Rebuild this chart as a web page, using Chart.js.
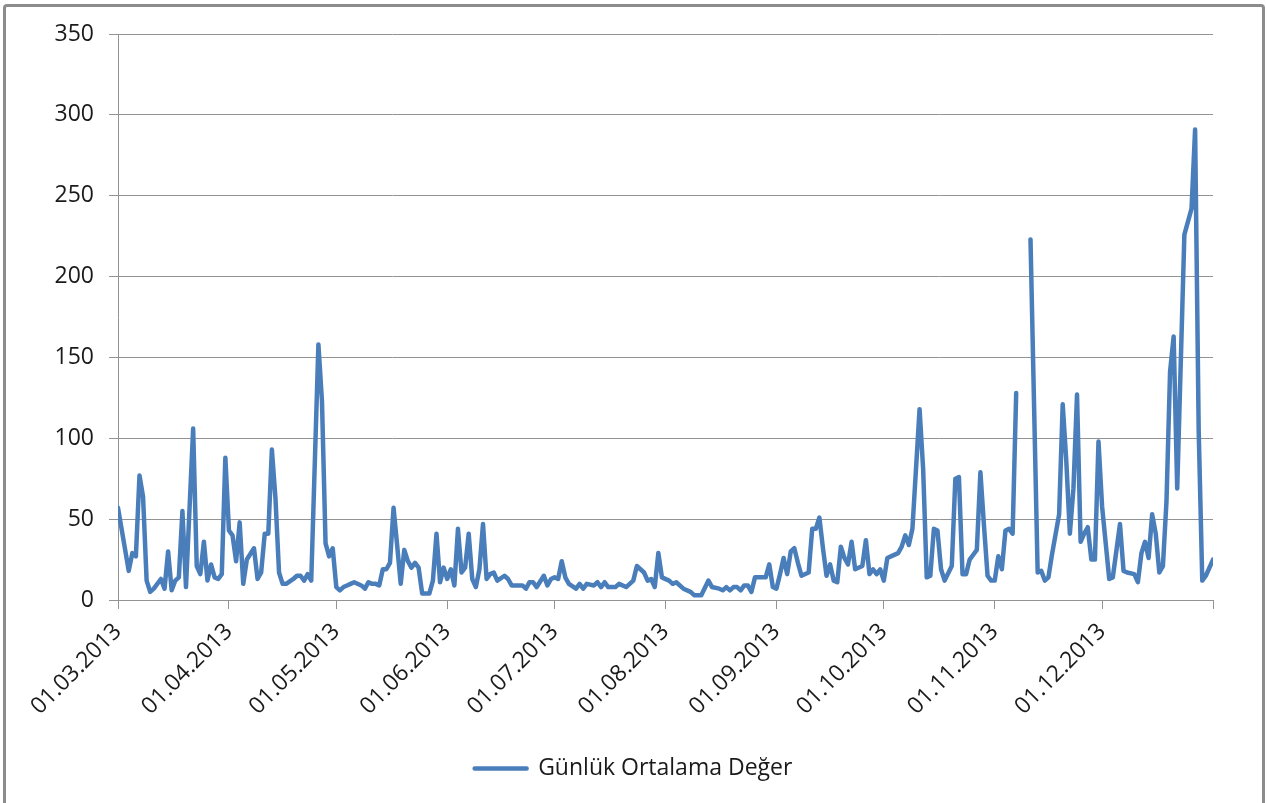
<!DOCTYPE html>
<html>
<head>
<meta charset="utf-8">
<script src="https://cdn.jsdelivr.net/npm/chart.js@4"></script>
<style>
  html, body { margin: 0; padding: 0; background: #fff; }
  #wrap { position: relative; width: 1267px; height: 803px; overflow: hidden; }
  #frame { position: absolute; left: 3px; top: 4px; width: 1256px; height: 810px;
           border: 3px solid #8c8c8c; border-radius: 4px; }
  #analytic-chart { position: absolute; left: 0; top: 0; }
</style>
</head>
<body>
<div id="wrap">
  <div id="frame"></div>
  <canvas id="analytic-chart" width="1267" height="803"></canvas>
</div>
<script>
// day offsets from 01.03.2013 and the daily mean values
const dayOffsets = [
  0, 3, 4, 5, 6, 7, 8, 9, 10, 12, 13, 14, 15, 16, 17, 18, 19, 21, 22, 23,
  24, 25, 26, 27, 28, 29, 30, 31, 32, 33, 34, 35, 36, 38, 39, 40, 41, 42, 43, 44,
  45, 46, 47, 49, 50, 51, 52, 53, 54, 56, 57, 58, 59, 60, 61, 62, 63, 64, 65, 66,
  68, 69, 70, 71, 72, 73, 74, 75, 76, 77, 78, 79, 80, 81, 82, 83, 84, 85, 87, 88,
  89, 90, 91, 92, 93, 94, 95, 96, 97, 98, 99, 100, 101, 102, 103, 104, 105, 106, 108, 109,
  110, 113, 114, 115, 116, 117, 119, 120, 121, 122, 123, 124, 125, 126, 128, 129, 130, 131, 133, 134,
  135, 136, 137, 139, 140, 142, 144, 145, 147, 148, 149, 150, 151, 152, 154, 155, 156, 158, 160, 161,
  163, 165, 166, 168, 169, 170, 171, 172, 173, 174, 175, 176, 177, 178, 180, 181, 182, 183, 184, 185,
  186, 187, 188, 189, 190, 191, 193, 194, 195, 196, 197, 198, 199, 200, 201, 202, 203, 204, 205, 206,
  208, 209, 210, 211, 212, 213, 214, 215, 216, 218, 219, 220, 221, 222, 224, 225, 226, 227, 228, 229,
  230, 231, 233, 234, 235, 236, 237, 238, 239, 240, 241, 242, 243, 244, 245, 246, 247, 248, 249, 250,
  251, 253, 255, 257, 258, 259, 260, 261, 263, 264, 265, 266, 267, 268, 269, 270, 271, 272, 273, 274,
  275, 277, 278, 280, 281, 282, 284, 285, 286, 287, 288, 289, 290, 291, 292, 293, 294, 295, 296, 298,
  300, 301, 302, 303, 304, 306
];

const dailyMeans = [
  57, 18, 29, 27, 77, 64, 12, 5, 7, 13, 7, 30, 6, 12, 14, 55, 8, 106, 21, 16,
  36, 12, 22, 14, 13, 16, 88, 43, 40, 24, 48, 10, 25, 32, 13, 17, 41, 41, 93, 63,
  17, 10, 10, 13, 15, 15, 12, 16, 12, 158, 123, 35, 27, 32, 8, 6, 8, 9, 10, 11,
  9, 7, 11, 10, 10, 9, 19, 19, 23, 57, 34, 10, 31, 24, 20, 23, 20, 4, 4, 12,
  41, 11, 20, 13, 19, 9, 44, 17, 20, 41, 13, 8, 19, 47, 13, 16, 17, 12, 15, 13,
  9, 9, 7, 11, 11, 8, 15, 9, 13, 14, 13, 24, 14, 10, 7, 10, 7, 10, 9, 11,
  8, 11, 8, 8, 10, 8, 12, 21, 17, 12, 13, 8, 29, 14, 12, 10, 11, 7, 5, 3,
  3, 12, 8, 7, 6, 8, 6, 8, 8, 6, 9, 9, 5, 14, 14, 14, 22, 8, 7, 16,
  26, 16, 30, 32, 23, 15, 17, 44, 44, 51, 32, 15, 22, 12, 11, 33, 26, 22, 36, 19,
  21, 37, 16, 19, 16, 19, 12, 26, 27, 29, 33, 40, 34, 44, 118, 81, 14, 15, 44, 43,
  19, 12, 21, 75, 76, 16, 16, 25, 28, 31, 79, 46, 15, 12, 12, 27, 19, 43, 44, 41,
  128, null, 223, 17, 18, 12, 14, 28, 53, 121, 86, 41, 69, 127, 36, 41, 45, 25, 25, 98,
  58, 13, 14, 47, 18, 17, 16, 11, 29, 36, 26, 53, 41, 17, 21, 61, 141, 163, 69, 226,
  242, 291, 105, 12, 15, 25
];

const monthTicks = [0, 31, 61, 92, 122, 153, 184, 214, 245, 275, 306];
const monthLabels = [
  "01.03.2013", "01.04.2013", "01.05.2013", "01.06.2013", "01.07.2013",
  "01.08.2013", "01.09.2013", "01.10.2013", "01.11.2013", "01.12.2013", ""
];

const seriesName = "Günlük Ortalama Değer";

Chart.defaults.font.family = "'Open Sans', sans-serif";
Chart.defaults.font.size = 23;
Chart.defaults.color = "#1a1a1a";

const line_chart = document.getElementById("analytic-chart").getContext("2d");

// center the legend on the whole canvas, not on the padded area
const centerLegend = {
  id: "centerLegend",
  afterLayout(chart) {
    if (chart.legend) {
      chart.legend.left = 0;
      chart.legend.right = chart.width;
    }
  },
};

const data = {
  datasets: [
    {
      label: seriesName,
      data: dayOffsets.map((d, i) => ({ x: d, y: dailyMeans[i] })),
      borderColor: "#4a7ebb",
      backgroundColor: "#4a7ebb",
      borderWidth: 4.5,
      pointRadius: 0,
      tension: 0,
      spanGaps: false,
      borderJoinStyle: "round",
      borderCapStyle: "round",
    },
  ],
};

const options = {
  responsive: false,
  animation: false,
  layout: {
    padding: { left: 0, right: 54, top: 34, bottom: 13 },
  },
  scales: {
    x: {
      type: "linear",
      min: 0,
      max: 306,
      afterBuildTicks: (scale) => {
        scale.ticks = monthTicks.map((v) => ({ value: v }));
      },
      afterFit: (scale) => {
        scale.height = 145;
      },
      ticks: {
        autoSkip: false,
        minRotation: 45,
        maxRotation: 45,
        padding: 9,
        callback: (value) => {
          const i = monthTicks.indexOf(value);
          return i >= 0 ? monthLabels[i] : "";
        },
      },
      grid: {
        drawOnChartArea: false,
        drawTicks: true,
        tickLength: 9,
        color: "#939393",
      },
      border: { color: "#939393" },
    },
    y: {
      min: 0,
      max: 350,
      afterFit: (scale) => {
        scale.width = 118;
      },
      ticks: {
        stepSize: 50,
        padding: 15,
      },
      grid: {
        color: "#939393",
        tickLength: 9,
      },
      border: { color: "#939393" },
    },
  },
  plugins: {
    legend: {
      display: true,
      position: "bottom",
      labels: {
        boxWidth: 52,
        boxHeight: 0,
        padding: 12,
        font: { size: 23 },
        color: "#1a1a1a",
      },
    },
    tooltip: { enabled: false },
  },
};

const config = {
  type: "line",
  data: data,
  options: options,
  plugins: [centerLegend],
};

const lineChart = new Chart(line_chart, config);
</script>
</body>
</html>
